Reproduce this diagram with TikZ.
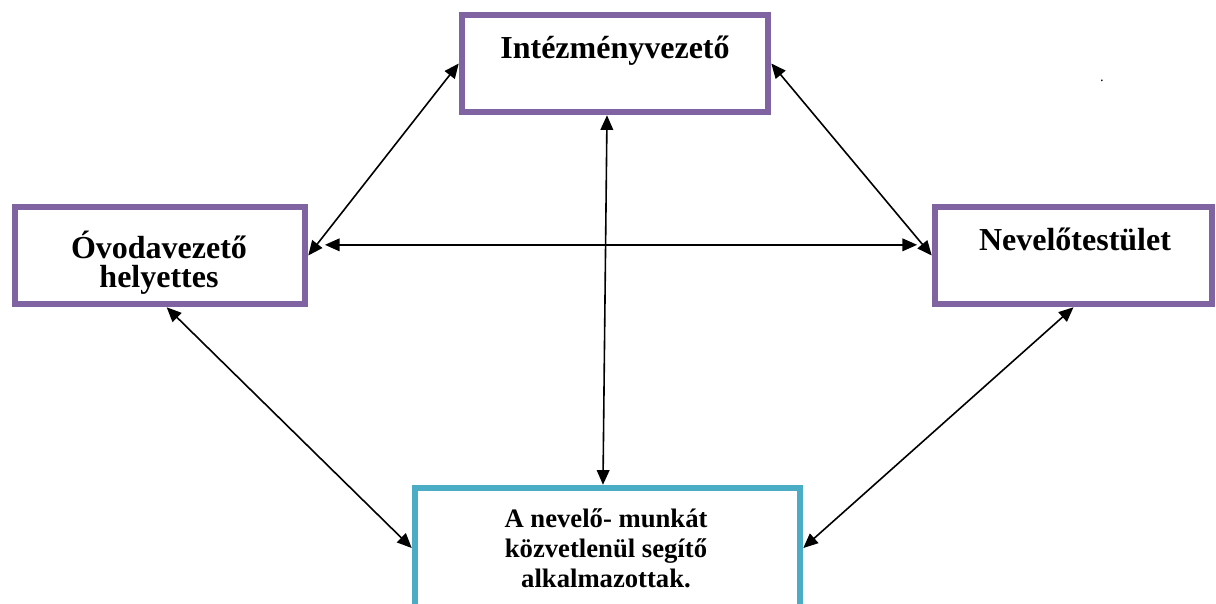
\documentclass[tikz,border=0pt]{standalone}
\usepackage{fontspec}
\setmainfont{Liberation Serif}
\usetikzlibrary{arrows.meta}
\definecolor{lila}{RGB}{128,100,162}
\definecolor{kek}{RGB}{75,172,198}
\tikzset{every picture/.style={line width=0.75pt}}
\tikzset{
  doboz/.style={draw=lila, line width=4.9pt, inner sep=0pt},
  szoveg/.style={font=\bfseries\fontsize{24}{21.75}\selectfont, inner sep=0pt, align=center},
  nyil/.style={arrows={Triangle[length=11pt,width=9.5pt]-Triangle[length=11pt,width=9.5pt]}, line width=1.2pt}
}
\begin{document}
\begin{tikzpicture}[x=0.75pt,y=0.75pt,yscale=-1,xscale=1]
\useasboundingbox (0,0) rectangle (1216,603);

%Boxes
\node[doboz, minimum width=229.5pt, minimum height=72.75pt] (iv) at (615,63.5) {};
\node[doboz, minimum width=217.5pt, minimum height=72.75pt] (ov) at (160,255.5) {};
\node[doboz, minimum width=207.75pt, minimum height=72.75pt] (nt) at (1073.5,255.5) {};
\node[doboz, draw=kek, minimum width=288.75pt, minimum height=90pt] (bb) at (607.5,548) {};

% Text Node
\node[szoveg, anchor=base] (ivszoveg) at (615,58) {Intézményvezető};
% Text Node
\node[szoveg, anchor=base] (ovszoveg) at (159,287) {Óvodavezető\\helyettes};
% Text Node
\node[szoveg, anchor=base] (ntszoveg) at (1075,250) {Nevelőtestület};
% Text Node
\node[szoveg, font=\bfseries\fontsize{20}{22.5}\selectfont, anchor=base] (bbszoveg) at (606,587) {A nevelő- munkát\\közvetlenül segítő\\alkalmazottak.};
% Text Node
\node[inner sep=0pt, anchor=base, font=\fontsize{11}{11}\selectfont] (pont) at (1102,81) {.};

%Arrows
\draw[nyil] (ov.east) -- (iv.west);
\draw[nyil] (iv.east) -- (nt.west);
\draw[nyil, shorten <=12.5pt, shorten >=11pt] ([yshift=-8pt]ov.east) -- ([yshift=-8pt]nt.west);
\draw[nyil] ([xshift=-6pt]iv.south) -- ([xshift=-3.4pt]bb.north);
\draw[nyil] ([xshift=5pt]ov.south) -- (bb.west);
\draw[nyil] (nt.south) -- (bb.east);

\end{tikzpicture}
\end{document}
